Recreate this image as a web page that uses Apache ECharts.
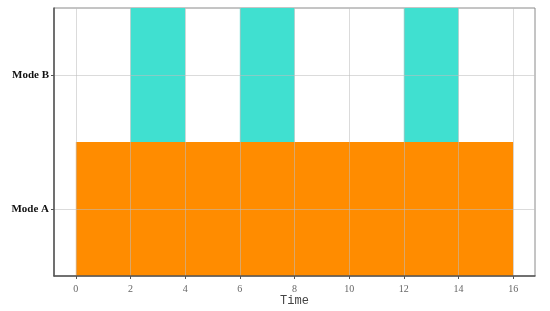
<!DOCTYPE html>
<html>
<head>
<meta charset="utf-8">
<script src="https://cdn.jsdelivr.net/npm/echarts@6/dist/echarts.min.js"></script>
<style>
  html, body { margin: 0; padding: 0; background: #fff; }
  #chart { width: 550px; height: 311px; }
</style>
</head>
<body>
<div id="chart"></div>
<script>
  // modes on the y axis, bottom to top
  const modes = ['Mode A', 'Mode B']
  // each interval: [mode index, start time, end time]
  const modeA = [[0, 0, 16]]
  const modeB = [[1, 2, 4], [1, 6, 8], [1, 12, 14]]
  const timeTicks = [0, 2, 4, 6, 8, 10, 12, 14, 16]
  const modeTicks = [0, 1]

  const colors = ['#FF8C00', '#40E0D0']

  function renderSpan(params, api) {
    const cat = api.value(0)
    const p0 = api.coord([api.value(1), cat])
    const p1 = api.coord([api.value(2), cat])
    const h = api.size([0, 1])[1]
    return {
      type: 'rect',
      shape: { x: p0[0], y: p0[1] - h / 2, width: p1[0] - p0[0], height: h },
      style: { fill: api.visual('color') }
    }
  }

  const gridLine = { color: 'rgba(190,190,190,0.55)', width: 1 }

  const chart = echarts.init(document.getElementById('chart'))
  chart.setOption({
    animation: false,
    grid: {
      left: 54, right: 15, top: 8, bottom: 35,
      outerBoundsMode: 'none',
      show: true, borderColor: '#8a8a8a', borderWidth: 1
    },
    xAxis: {
      type: 'value',
      min: -0.8,
      max: 16.8,
      z: 5,
      name: 'Time',
      nameLocation: 'middle',
      nameGap: 19,
      nameMoveOverlap: false,
      nameTextStyle: { fontFamily: 'Liberation Mono', fontSize: 12, color: '#444' },
      axisLine: { show: true, onZero: false, lineStyle: { color: '#555', width: 1.5 } },
      axisTick: { show: true, length: 3, lineStyle: { color: '#555' }, customValues: timeTicks },
      axisLabel: { color: '#666', fontFamily: 'Liberation Serif', fontSize: 10, margin: 8,
        customValues: timeTicks },
      splitLine: { show: true, lineStyle: gridLine, customValues: timeTicks }
    },
    yAxis: {
      type: 'value',
      min: -0.5,
      max: 1.5,
      z: 5,
      axisLine: { show: true, onZero: false, lineStyle: { color: '#555', width: 1.5 } },
      axisTick: { show: true, length: 3, lineStyle: { color: '#555' }, customValues: modeTicks },
      axisLabel: { color: '#111', fontFamily: 'Liberation Serif', fontWeight: 'bold',
        fontSize: 11, margin: 5, customValues: modeTicks,
        formatter: v => modes[v] },
      splitLine: { show: true, lineStyle: gridLine, customValues: modeTicks }
    },
    series: [
      {
        name: 'Mode A', type: 'custom', renderItem: renderSpan,
        itemStyle: { color: colors[0] },
        encode: { x: [1, 2], y: 0 },
        data: modeA
      },
      {
        name: 'Mode B', type: 'custom', renderItem: renderSpan,
        itemStyle: { color: colors[1] },
        encode: { x: [1, 2], y: 0 },
        data: modeB
      }
    ]
  })
</script>
</body>
</html>
